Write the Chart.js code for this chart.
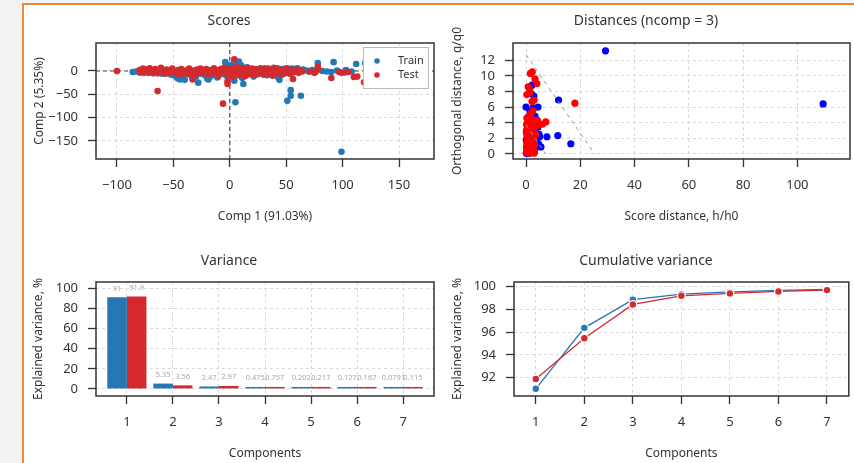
<!DOCTYPE html>
<html>
<head>
<meta charset="utf-8">
<script src="https://cdn.jsdelivr.net/npm/chart.js@4/dist/chart.umd.min.js"></script>
<style>
html, body { margin: 0; padding: 0; width: 854px; height: 463px; overflow: hidden; background: #f2f2f2; }
#frame { position: absolute; left: 22px; top: 3px; right: 0; bottom: 0; background: #fff;
         border-left: 2px solid #f0883a; border-top: 2px solid #f0883a; }
canvas { position: absolute; }
</style>
</head>
<body>
<div id="frame"></div>
<canvas id="scores" width="416" height="226" style="left:24px;top:6px"></canvas>
<canvas id="dist" width="414" height="226" style="left:440px;top:6px"></canvas>
<canvas id="variance" width="416" height="227" style="left:24px;top:236px"></canvas>
<canvas id="cumvar" width="414" height="227" style="left:440px;top:236px"></canvas>
<script>
// ---- data ----
const components = [1, 2, 3, 4, 5, 6, 7]
const trainVar = [91.03, 5.35, 2.47, 0.475, 0.202, 0.127, 0.0791]
const testVar = [91.9, 3.56, 2.97, 0.757, 0.217, 0.167, 0.115]
const trainCum = [91.03, 96.38, 98.85, 99.33, 99.53, 99.66, 99.74]
const testCum = [91.9, 95.46, 98.43, 99.19, 99.40, 99.57, 99.69]

const scoresXTicks = [-100, -50, 0, 50, 100, 150]
const scoresYTicks = [0, -50, -100, -150]
const distXTicks = [0, 20, 40, 60, 80, 100]
const distYTicks = [0, 2, 4, 6, 8, 10, 12]
const varYTicks = [0, 20, 40, 60, 80, 100]
const cumYTicks = [92, 94, 96, 98, 100]

// scores, [comp1, comp2]
const trainScores = [
  [-86,-2],[-83,-1],[-80,-3],[-78,0],[-76,-4],[-73,1],[-70,-2],[-68,-5],[-66,0],[-63,-3],
  [-60,-6],[-58,1],[-55,-4],[-52,-8],[-50,-2],[-48,-12],[-46,-16],[-44,-18],[-42,-14],[-40,-19],
  [-38,-7],[-36,-3],[-34,-10],[-32,-5],[-30,-12],[-28,-25],[-26,-6],[-24,-2],[-22,-9],[-20,-16],
  [-19,-18],[-17,-12],[-15,-4],[-13,-8],[-11,-14],[-9,-3],[-7,-6],[-5,2],[-4,19],[-3,-10],
  [-1,6],[0,12],[1,-4],[2,10],[3,15],[4,-21],[5,-67],[6,5],[7,16],[8,20],
  [9,-8],[10,12],[11,-15],[12,-28],[13,3],[14,-10],[15,8],[17,-5],[19,2],[21,-12],
  [23,4],[25,-7],[27,1],[29,-3],[31,6],[33,-9],[35,2],[37,-5],[39,7],[41,-2],
  [43,-14],[44,-19],[46,4],[48,-6],[50,6],[51,-64],[52,2],[54,-41],[54,-53],[55,5],
  [56,-3],[58,4],[60,6],[62,1],[63,-53],[65,3],[68,1],[70,-1],[73,2],[76,-2],
  [78,17],[82,0],[86,-1],[90,-2],[92,19],[95,1],[99,-4],[99,-173],[103,2],[108,-1],
  [112,15],[120,17],[136,17]
]
const testScores = [
  [-100,0],[-80,2],[-79,-3],[-77,5],[-75,-1],[-74,3],[-72,-4],[-71,6],[-69,0],[-67,-2],
  [-66,4],[-64,-43],[-64,-5],[-62,2],[-61,7],[-59,-1],[-57,-6],[-56,3],[-54,0],[-53,-3],
  [-51,5],[-49,-1],[-47,-5],[-46,2],[-44,-8],[-43,4],[-41,-2],[-39,1],[-38,-6],[-36,5],
  [-35,-3],[-33,-18],[-32,1],[-31,-7],[-29,3],[-27,-2],[-26,5],[-24,-5],[-22,0],[-21,4],
  [-19,-8],[-18,2],[-16,-3],[-14,6],[-13,-6],[-11,1],[-10,-10],[-8,4],[-7,-2],[-6,-70],
  [-5,7],[-4,-5],[-2,-28],[-2,-22],[-1,2],[0,-8],[1,5],[2,-12],[3,1],[4,25],
  [5,-4],[6,8],[7,-9],[8,3],[9,-2],[10,6],[11,-6],[12,1],[13,-11],[14,4],
  [15,-2],[16,7],[17,-7],[18,2],[19,-4],[20,5],[22,-9],[23,0],[24,3],[26,-5],
  [27,6],[28,-1],[30,-8],[31,3],[32,-3],[34,5],[35,-6],[36,0],[38,-10],[39,4],
  [40,-2],[42,6],[43,-5],[45,1],[46,-8],[48,3],[49,-3],[51,5],[52,-1],[53,-6],
  [55,2],[56,-17],[57,-2],[59,3],[61,-4],[62,1],[64,-1],[71,-1],[75,-4],[78,9],
  [78,3],[90,-15],[97,-2],[102,-3],[105,-2],[110,-13],[113,-12],[119,-24]
]

// distances, [h/h0, q/q0]
const trainDist = [
  [0.1,0.1],[0.3,0.3],[0.5,0.05],[0.8,0.2],[1.2,0.1],[1.6,0.3],[2.0,0.15],[2.5,0.4],[3.0,0.2],[0.2,0.8],
  [0.6,1.1],[1.0,0.7],[1.5,1.2],[2.2,0.9],[2.8,1.4],[3.5,0.8],[4.2,1.0],[4.6,1.3],[0.1,1.8],[0.4,2.3],
  [0.9,2.8],[1.3,2.1],[1.9,2.6],[2.4,3.1],[3.1,2.2],[3.6,3.4],[4.8,2.5],[0.2,3.0],[0.5,3.6],[1.1,4.1],
  [1.7,4.8],[3.3,4.8],[4.4,3.4],[0.0,6.0],[1.5,5.4],[2.6,5.9],[4.4,6.0],[2.0,7.7],[2.9,7.4],[2.2,8.8],
  [5.5,0.9],[7.7,2.2],[11.7,2.35],[12.0,6.9],[16.5,1.3],[29.3,13.2],[109.5,6.4],[0.7,0.5],[1.4,1.6],[2.9,0.6],
  [3.8,1.7],[5.0,2.2]
]
const testDist = [
  [0.1,0.2],[0.3,0.6],[0.6,0.3],[0.9,0.9],[1.2,0.4],[1.5,1.0],[1.8,0.6],[2.1,1.3],[2.4,0.8],[2.7,1.6],
  [0.2,1.4],[0.5,1.9],[0.8,2.4],[1.1,1.7],[1.4,2.9],[1.7,2.2],[2.0,3.0],[2.3,2.5],[2.6,3.3],[2.9,2.0],
  [0.1,2.7],[0.4,3.2],[0.7,3.7],[1.0,4.2],[1.3,3.5],[1.6,4.0],[1.9,4.5],[2.2,3.8],[2.5,4.3],[0.3,4.6],
  [0.6,4.0],[0.9,3.0],[1.2,2.6],[1.5,3.2],[1.8,1.5],[2.0,0.2],[2.8,0.4],[3.2,1.2],[3.5,2.5],[3.8,3.6],
  [0.4,0.9],[0.2,3.8],[1.1,0.1],[3.0,0.1],[2.5,5.5],[1.8,5.2],[1.0,4.8],[4.2,4.3],[4.8,3.7],[6.0,3.8],
  [7.3,4.1],[3.0,6.9],[2.2,6.7],[1.4,7.8],[0.3,7.6],[1.3,8.3],[0.8,8.6],[4.0,9.0],[3.3,9.6],[1.6,10.3],
  [2.3,10.5],[18.0,6.5]
]
const outlierLimit = [[0, 12.7], [25.3, 0]]
const extremeLimit = [[0, 3.7], [7.3, 0]]

// ---- styling ----
const FONT = "'Noto Sans', sans-serif"
const INK = '#333'
const BLUE = '#2678b4'
const RED = '#d42a2e'

function fmt(v) {
  return v < 0 ? '\u2212' + Math.abs(v) : String(v)
}
const xy = arr => arr.map(p => ({x: p[0], y: p[1]}))

function axis(o) {
  return {
    type: 'linear',
    min: o.min, max: o.max, offset: false,
    afterBuildTicks: s => { s.ticks = o.ticks.map(v => ({value: v})) },
    afterFit: s => { if (s.isHorizontal()) s.height = o.size; else s.width = o.size },
    ticks: {color: INK, font: {family: FONT, size: 13}, padding: o.pad,
            maxRotation: 0, autoSkip: false, callback: v => fmt(v)},
    grid: {offset: false, color: '#d8d8d8', lineWidth: 1, tickColor: INK, tickLength: 8,
           tickWidth: 1.3, tickBorderDash: []},
    border: {display: false, dash: [3, 3]},
    title: {display: true, text: o.title, color: INK, font: {family: FONT, size: 12},
            padding: o.horiz ? {top: 0, bottom: o.tpad} : {top: o.tpad, bottom: 0}}
  }
}

function title(text, top, bottom) {
  return {display: true, text: text, color: INK, font: {family: FONT, size: 14, weight: 'normal'},
          padding: {top: top, bottom: bottom}}
}

// box around plot area
const frame = {
  id: 'frame',
  afterDraw(chart) {
    const a = chart.chartArea, c = chart.ctx
    c.save()
    c.strokeStyle = INK
    c.lineWidth = 1.5
    c.strokeRect(a.left, a.top, a.right - a.left, a.bottom - a.top)
    c.restore()
  }
}

// dashed lines through origin
const zeroLines = {
  id: 'zeroLines',
  beforeDatasetsDraw(chart) {
    const a = chart.chartArea, c = chart.ctx
    const x0 = chart.scales.x.getPixelForValue(0), y0 = chart.scales.y.getPixelForValue(0)
    c.save()
    c.strokeStyle = '#444'
    c.lineWidth = 1.2
    c.setLineDash([4, 3])
    c.beginPath()
    c.moveTo(x0, a.top); c.lineTo(x0, a.bottom)
    c.moveTo(a.left, y0); c.lineTo(a.right, y0)
    c.stroke()
    c.restore()
  }
}

// boxed legend top right
const boxLegend = {
  id: 'boxLegend',
  afterDatasetsDraw(chart) {
    const a = chart.chartArea, c = chart.ctx
    const w = 65, h = 41, x = a.right - 6 - w, y = a.top + 4
    c.save()
    c.fillStyle = '#fff'
    c.fillRect(x, y, w, h)
    c.strokeStyle = '#bbb'
    c.lineWidth = 1
    c.strokeRect(x + 0.5, y + 0.5, w, h)
    c.font = '11px ' + FONT
    c.textBaseline = 'middle'
    chart.data.datasets.forEach((ds, i) => {
      const yy = y + 14 + i * 14
      c.fillStyle = ds.backgroundColor
      c.beginPath(); c.arc(x + 14, yy, 2.8, 0, Math.PI * 2); c.fill()
      c.fillStyle = INK
      c.fillText(ds.label, x + 35, yy)
    })
    c.restore()
  }
}

// small value labels over bars
const barLabels = {
  id: 'barLabels',
  afterDatasetsDraw(chart) {
    const c = chart.ctx
    c.save()
    c.font = '7.5px ' + FONT
    c.fillStyle = '#a8a8a8'
    c.textAlign = 'center'
    c.textBaseline = 'bottom'
    chart.data.datasets.forEach((ds, i) => {
      chart.getDatasetMeta(i).data.forEach((bar, j) => {
        const v = Number(ds.data[j].y.toPrecision(3))
        c.fillText(String(v), bar.x, Math.min(bar.y, bar.base - 2) - 5)
      })
    })
    c.restore()
  }
}

// ---- Scores ----
new Chart(document.getElementById('scores'), {
  type: 'scatter',
  data: {datasets: [
    {label: 'Train', data: xy(trainScores), backgroundColor: BLUE, borderWidth: 0, pointRadius: 3.3, order: 2},
    {label: 'Test', data: xy(testScores), backgroundColor: RED, borderWidth: 0, pointRadius: 3.3, order: 1}
  ]},
  options: {
    responsive: false, animation: false,
    layout: {padding: {right: 6}},
    plugins: {legend: {display: false}, tooltip: {enabled: false}, title: title('Scores', 6.6, 13.6)},
    scales: {
      x: axis({min: -118.6, max: 181, ticks: scoresXTicks, size: 73, pad: 10, horiz: true, tpad: 7.8, title: 'Comp 1 (91.03%)'}),
      y: axis({min: -188.6, max: 60, ticks: scoresYTicks, size: 72, pad: 10, tpad: 8.8, title: 'Comp 2 (5.35%)'})
    }
  },
  plugins: [zeroLines, boxLegend, frame]
})

// ---- Distances ----
new Chart(document.getElementById('dist'), {
  type: 'scatter',
  data: {datasets: [
    {label: 'Train', data: xy(trainDist), backgroundColor: '#0000ff', borderWidth: 0, pointRadius: 3.6, order: 2},
    {label: 'Test', data: xy(testDist), backgroundColor: '#ff0000', borderWidth: 0, pointRadius: 3.6, order: 1},
    {label: 'outliers', data: xy(outlierLimit), showLine: true, borderColor: '#999', borderWidth: 1,
     borderDash: [4, 4], pointRadius: 0, order: 0},
    {label: 'extremes', data: xy(extremeLimit), showLine: true, borderColor: '#999', borderWidth: 1,
     borderDash: [4, 4], pointRadius: 0, order: 0}
  ]},
  options: {
    responsive: false, animation: false,
    layout: {padding: {right: 2}},
    plugins: {legend: {display: false}, tooltip: {enabled: false}, title: title('Distances (ncomp = 3)', 6.6, 13.6)},
    scales: {
      x: axis({min: -4.8, max: 119.4, ticks: distXTicks, size: 73, pad: 10, horiz: true, tpad: 7.8, title: 'Score distance, h/h0'}),
      y: axis({min: -0.65, max: 14.2, ticks: distYTicks, size: 73, pad: 10, tpad: 10.8, title: 'Orthogonal distance, q/q0'})
    }
  },
  plugins: [frame]
})

// ---- Variance ----
new Chart(document.getElementById('variance'), {
  type: 'bar',
  data: {datasets: [
    {label: 'Train', data: components.map((c, i) => ({x: c, y: trainVar[i]})), backgroundColor: BLUE},
    {label: 'Test', data: components.map((c, i) => ({x: c, y: testVar[i]})), backgroundColor: RED}
  ]},
  options: {
    responsive: false, animation: false,
    layout: {padding: {right: 6}},
    datasets: {bar: {categoryPercentage: 0.85, barPercentage: 1, minBarLength: 2}},
    plugins: {legend: {display: false}, tooltip: {enabled: false}, title: title('Variance', 16.6, 12.6)},
    scales: {
      x: axis({min: 0.33, max: 7.67, ticks: components, size: 67, pad: 10, horiz: true, tpad: 1.8, title: 'Components'}),
      y: axis({min: -7, max: 106.3, ticks: varYTicks, size: 72, pad: 10, tpad: 7.8, title: 'Explained variance, %'})
    }
  },
  plugins: [barLabels, frame]
})

// ---- Cumulative variance ----
new Chart(document.getElementById('cumvar'), {
  type: 'line',
  data: {datasets: [
    {label: 'Train', data: components.map((c, i) => ({x: c, y: trainCum[i]})), borderColor: BLUE, backgroundColor: BLUE,
     borderWidth: 1.3, pointRadius: 3.8, pointBorderColor: '#fff', pointBorderWidth: 1.2, order: 2},
    {label: 'Test', data: components.map((c, i) => ({x: c, y: testCum[i]})), borderColor: RED, backgroundColor: RED,
     borderWidth: 1.3, pointRadius: 3.8, pointBorderColor: '#fff', pointBorderWidth: 1.2, order: 1}
  ]},
  options: {
    responsive: false, animation: false,
    layout: {padding: {right: 2}},
    plugins: {legend: {display: false}, tooltip: {enabled: false}, title: title('Cumulative variance', 16.6, 12.6)},
    scales: {
      x: axis({min: 0.551, max: 7.45, ticks: components, size: 67, pad: 10, horiz: true, tpad: 1.8, title: 'Components'}),
      y: axis({min: 90.4, max: 100.4, ticks: cumYTicks, size: 74, pad: 10, tpad: 10.3, title: 'Explained variance, %'})
    }
  },
  plugins: [frame]
})
</script>
</body>
</html>
